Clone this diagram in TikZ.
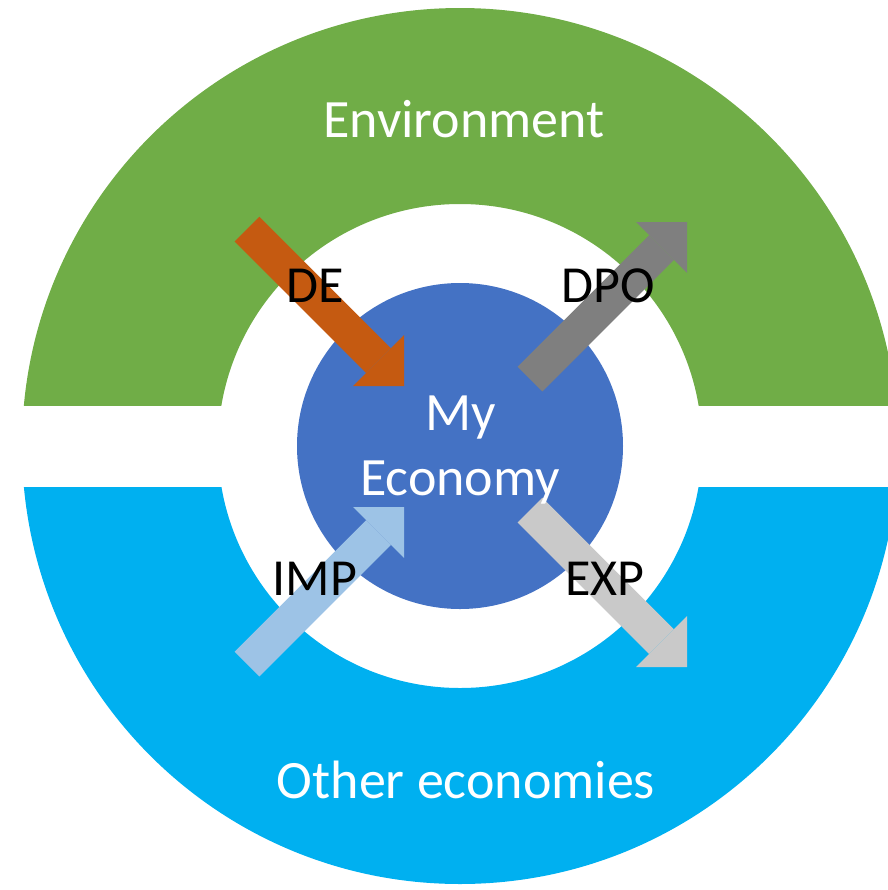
\documentclass[tikz,border=0pt]{standalone}
\usepackage{fontspec}
\setmainfont{Carlito}
\usetikzlibrary{arrows.meta}

\definecolor{envgreen}{HTML}{70AD47}
\definecolor{othblue}{HTML}{00B0F0}
\definecolor{ecoblue}{HTML}{4472C4}
\definecolor{deorange}{HTML}{C55A11}
\definecolor{dpogray}{HTML}{7F7F7F}
\definecolor{impblue}{HTML}{9DC3E6}
\definecolor{expgray}{HTML}{C9C9C9}

\begin{document}
\begin{tikzpicture}[x=0.5pt,y=-0.5pt,
    flow/.style={line width=17.5pt,-{Triangle[width=36pt,length=18pt,line width=0pt]}},
    lbl/.style={anchor=base,font=\fontsize{26}{31}\selectfont},
    big/.style={anchor=base,text=white,font=\fontsize{27}{32}\selectfont}]

    \useasboundingbox (0,0) rectangle (888,890);

    % the two half rings
    \begin{scope}
      \clip (0,0) rectangle (888,405);
      \fill[envgreen,even odd rule] (460,446) circle[radius=438] (460,446) circle[radius=242];
    \end{scope}
    \begin{scope}
      \clip (0,487) rectangle (888,890);
      \fill[othblue,even odd rule] (460,446) circle[radius=438] (460,446) circle[radius=242];
    \end{scope}

    \node (eco) at (460,446) [circle,fill=ecoblue,minimum size=163pt,inner sep=0pt] {};

    \coordinate (deTail) at (247,229);
    \coordinate (deTip) at (404,386);
    \coordinate (dpoTail) at (530,379);
    \coordinate (dpoTip) at (687,222);
    \coordinate (impTail) at (247,664);
    \coordinate (impTip) at (404,507);
    \coordinate (expTail) at (530,510);
    \coordinate (expTip) at (687,667);

    \draw[flow,deorange] (deTail) -- (deTip);
    \draw[flow,dpogray] (dpoTail) -- (dpoTip);
    \draw[flow,impblue] (impTail) -- (impTip);
    \draw[flow,expgray] (expTail) -- (expTip);

    \node (env) at (464,137) [big] {Environment};
    \node (oth) at (466,798) [big] {Other economies};
    \node (my) at (461,430) [big] {My};
    \node (economy) at (460,495) [big] {Economy};

    \node (de) at (315,302) [lbl] {DE};
    \node (dpo) at (608,302) [lbl] {DPO};
    \node (imp) at (315,595) [lbl] {IMP};
    \node (exp) at (605,595) [lbl] {EXP};

  \end{tikzpicture}
\end{document}
